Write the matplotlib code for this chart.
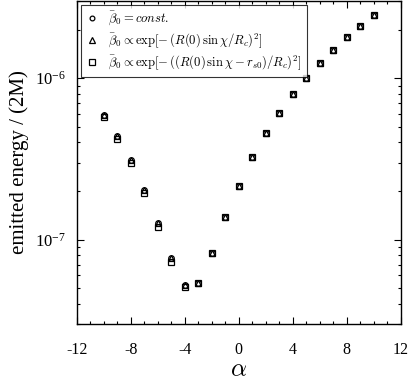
import numpy as np
import matplotlib
matplotlib.use("Agg")
import matplotlib.pyplot as plt
from matplotlib.ticker import MultipleLocator, LogLocator, NullFormatter

plt.rcParams['font.family'] = 'Liberation Serif'
plt.rcParams['mathtext.fontset'] = 'cm'

# data
alpha = np.arange(-10, 11)
e_const = [5.95e-7, 4.35e-7, 3.10e-7, 2.03e-7, 1.27e-7, 7.7e-8, 5.25e-8, 5.4e-8, 8.3e-8,
           1.37e-7, 2.15e-7, 3.25e-7, 4.58e-7, 6.08e-7, 7.96e-7, 1.00e-6, 1.24e-6,
           1.49e-6, 1.79e-6, 2.09e-6, 2.45e-6]
e_gauss = [5.95e-7, 4.35e-7, 3.10e-7, 2.03e-7, 1.27e-7, 7.7e-8, 5.25e-8, 5.4e-8, 8.3e-8,
           1.37e-7, 2.15e-7, 3.25e-7, 4.58e-7, 6.08e-7, 7.96e-7, 1.00e-6, 1.24e-6,
           1.49e-6, 1.79e-6, 2.09e-6, 2.45e-6]
e_shift = [5.74e-7, 4.20e-7, 2.99e-7, 1.95e-7, 1.20e-7, 7.21e-8, 5.05e-8, 5.35e-8, 8.31e-8,
           1.37e-7, 2.15e-7, 3.25e-7, 4.58e-7, 6.08e-7, 7.96e-7, 1.00e-6, 1.24e-6,
           1.49e-6, 1.79e-6, 2.09e-6, 2.45e-6]

labels = [r'$\bar{\beta}_0 = const.$',
          r'$\bar{\beta}_0 \propto \exp[-\,(R(0)\,\sin\chi/R_c)^2]$',
          r'$\bar{\beta}_0 \propto \exp[-\,((R(0)\,\sin\chi-r_{s0})/R_c)^2]$']

fig = plt.figure(figsize=(4.09, 3.82), dpi=100)
ax = fig.add_axes([0.188, 0.152, 0.792, 0.845])

ms = 5
ax.plot(alpha, e_const, 'o', ms=ms - 1, mfc='none', mec='k', mew=0.9, label=labels[0])
ax.plot(alpha, e_gauss, '^', ms=ms, mfc='none', mec='k', mew=0.9, label=labels[1])
ax.plot(alpha, e_shift, 's', ms=ms, mfc='none', mec='k', mew=0.9, label=labels[2])

ax.set_yscale('log')
ax.set_xlim(-12, 12)
ax.set_ylim(3e-8, 3e-6)

ax.xaxis.set_major_locator(MultipleLocator(4))
ax.xaxis.set_minor_locator(MultipleLocator(1))
ax.yaxis.set_major_locator(LogLocator(base=10))
ax.yaxis.set_minor_locator(LogLocator(base=10, subs=np.arange(2, 10)))
ax.yaxis.set_minor_formatter(NullFormatter())
ax.tick_params(which='both', direction='in', top=True, right=True, width=0.8)
ax.tick_params(which='major', length=5)
ax.tick_params(which='minor', length=2.5)
ax.tick_params(axis='x', labelsize=11.5, pad=13)
ax.tick_params(axis='y', labelsize=12, pad=8)
ax.set_xticks(np.arange(-12, 13, 4))
ax.set_xticklabels([str(v) for v in range(-12, 13, 4)])
for s in ax.spines.values():
    s.set_linewidth(1.0)

ax.set_xlabel(r'$\alpha$', fontsize=18, labelpad=1)
ax.set_ylabel('emitted energy / (2M)', fontsize=15, labelpad=4)

leg = ax.legend(loc='upper left', fontsize=9.1, frameon=True, fancybox=False,
                edgecolor='k', handlelength=1.0, handletextpad=0.8,
                borderpad=0.4, labelspacing=0.3, borderaxespad=0.3, numpoints=1,
                markerscale=0.85)
leg.get_frame().set_linewidth(0.8)

fig.savefig('out.png', dpi=100)
